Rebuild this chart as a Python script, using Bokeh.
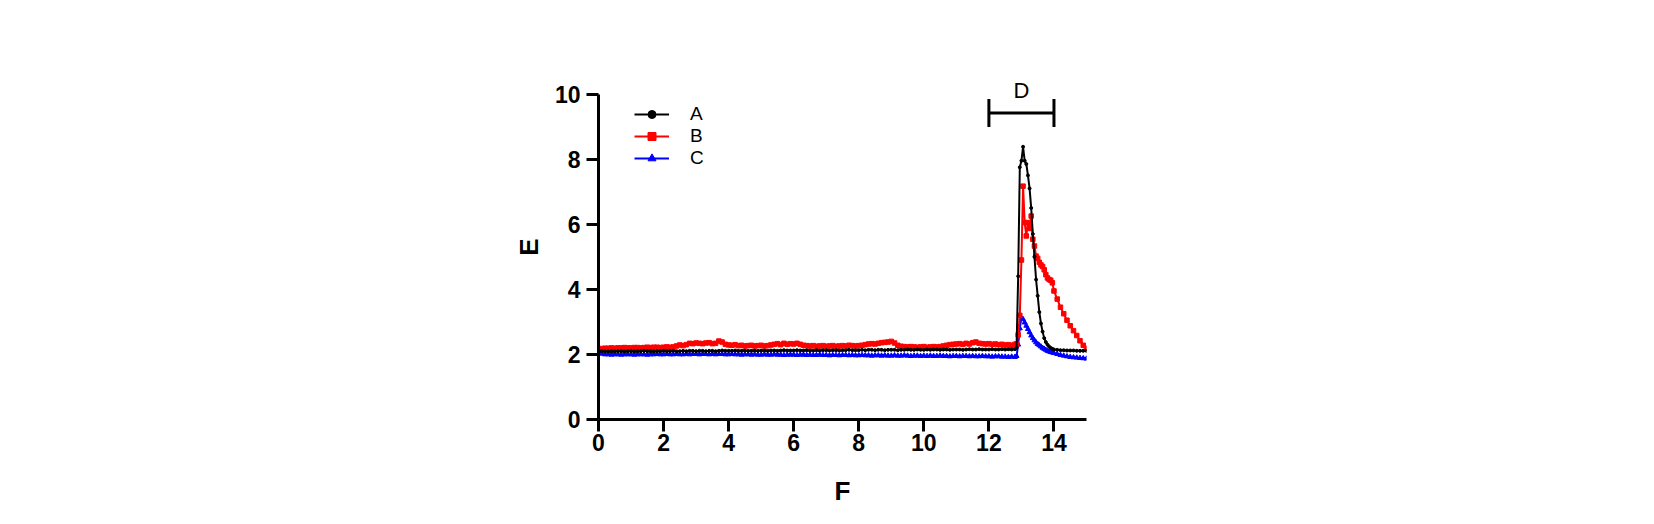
from bokeh.plotting import figure
from bokeh.models import Range1d, FixedTicker, Legend, LegendItem, Label
from bokeh.embed import file_html
from bokeh.resources import INLINE

# sample positions (F)
x_vals = [
    0.0, 0.1, 0.2, 0.3, 0.4, 0.5, 0.6, 0.7, 0.8, 0.9,
    1.0, 1.1, 1.2, 1.3, 1.4, 1.5, 1.6, 1.7, 1.8, 1.9,
    2.0, 2.1, 2.2, 2.3, 2.4, 2.5, 2.6, 2.7, 2.8, 2.9,
    3.0, 3.1, 3.2, 3.3, 3.4, 3.5, 3.6, 3.7, 3.8, 3.9,
    4.0, 4.1, 4.2, 4.3, 4.4, 4.5, 4.6, 4.7, 4.8, 4.9,
    5.0, 5.1, 5.2, 5.3, 5.4, 5.5, 5.6, 5.7, 5.8, 5.9,
    6.0, 6.1, 6.2, 6.3, 6.4, 6.5, 6.6, 6.7, 6.8, 6.9,
    7.0, 7.1, 7.2, 7.3, 7.4, 7.5, 7.6, 7.7, 7.8, 7.9,
    8.0, 8.1, 8.2, 8.3, 8.4, 8.5, 8.6, 8.7, 8.8, 8.9,
    9.0, 9.1, 9.2, 9.3, 9.4, 9.5, 9.6, 9.7, 9.8, 9.9,
    10.0, 10.1, 10.2, 10.3, 10.4, 10.5, 10.6, 10.7, 10.8, 10.9,
    11.0, 11.1, 11.2, 11.3, 11.4, 11.5, 11.6, 11.7, 11.8, 11.9,
    12.0, 12.1, 12.2, 12.3, 12.4, 12.5, 12.6, 12.7, 12.8,
    12.85, 12.9, 12.95, 13.0, 13.05, 13.1, 13.15, 13.2, 13.25, 13.3,
    13.35, 13.4, 13.45, 13.5, 13.55, 13.6, 13.65, 13.7, 13.75, 13.8,
    13.85, 13.9, 13.95, 14.0,
    14.1, 14.2, 14.3, 14.4, 14.5, 14.6, 14.7, 14.8, 14.9, 15.0,
]

series_a = [
    2.12, 2.10, 2.09, 2.09, 2.10, 2.09, 2.10, 2.10, 2.09, 2.10,
    2.10, 2.09, 2.10, 2.10, 2.11, 2.10, 2.10, 2.09, 2.10, 2.10,
    2.11, 2.10, 2.10, 2.11, 2.10, 2.10, 2.11, 2.10, 2.11, 2.11,
    2.10, 2.11, 2.11, 2.10, 2.11, 2.11, 2.10, 2.11, 2.12, 2.11,
    2.11, 2.11, 2.12, 2.11, 2.11, 2.12, 2.11, 2.11, 2.12, 2.11,
    2.12, 2.12, 2.11, 2.12, 2.12, 2.11, 2.12, 2.13, 2.12, 2.12,
    2.12, 2.13, 2.12, 2.12, 2.13, 2.12, 2.12, 2.13, 2.12, 2.13,
    2.13, 2.12, 2.13, 2.13, 2.12, 2.13, 2.13, 2.14, 2.13, 2.13,
    2.13, 2.14, 2.13, 2.14, 2.14, 2.13, 2.14, 2.14, 2.13, 2.14,
    2.14, 2.14, 2.13, 2.14, 2.14, 2.15, 2.14, 2.14, 2.15, 2.14,
    2.14, 2.15, 2.14, 2.15, 2.15, 2.14, 2.15, 2.15, 2.14, 2.15,
    2.15, 2.15, 2.14, 2.15, 2.16, 2.15, 2.15, 2.16, 2.15, 2.15,
    2.15, 2.16, 2.15, 2.15, 2.16, 2.15, 2.16, 2.15, 2.16,
    2.20, 4.40, 7.75, 7.95, 8.38, 7.95, 7.85, 7.50, 7.10, 6.50,
    5.70, 5.00, 4.30, 3.80, 3.30, 2.95, 2.70, 2.50, 2.38, 2.30,
    2.24, 2.20, 2.17, 2.15,
    2.14, 2.13, 2.13, 2.12, 2.12, 2.12, 2.11, 2.11, 2.11, 2.11,
]

series_b = [
    2.17, 2.18, 2.19, 2.19, 2.20, 2.19, 2.20, 2.20, 2.21, 2.20,
    2.20, 2.21, 2.21, 2.20, 2.21, 2.22, 2.21, 2.22, 2.22, 2.21,
    2.22, 2.23, 2.22, 2.23, 2.26, 2.29, 2.27, 2.30, 2.34, 2.33,
    2.35, 2.34, 2.33, 2.35, 2.36, 2.33, 2.34, 2.41, 2.38, 2.31,
    2.29, 2.28, 2.30, 2.27, 2.28, 2.26, 2.27, 2.28, 2.26, 2.27,
    2.28, 2.26, 2.27, 2.29, 2.31, 2.33, 2.30, 2.34, 2.31, 2.33,
    2.32, 2.34, 2.31, 2.28, 2.27, 2.26, 2.27, 2.25, 2.26, 2.27,
    2.25, 2.26, 2.27, 2.25, 2.26, 2.27, 2.26, 2.28, 2.27, 2.26,
    2.27, 2.28, 2.30, 2.32, 2.33, 2.32, 2.34, 2.36, 2.37, 2.38,
    2.40, 2.35, 2.28, 2.25, 2.24, 2.23, 2.24, 2.23, 2.22, 2.23,
    2.24, 2.22, 2.23, 2.24, 2.23, 2.24, 2.26, 2.28, 2.30, 2.31,
    2.32, 2.33, 2.31, 2.34, 2.32, 2.36, 2.38, 2.34, 2.33, 2.32,
    2.33, 2.31, 2.32, 2.30, 2.31, 2.29, 2.30, 2.28, 2.31,
    2.32, 2.60, 3.20, 4.90, 7.17, 6.05, 5.64, 6.05, 5.87, 6.25,
    5.54, 5.33, 5.02, 4.95, 4.83, 4.75, 4.70, 4.60, 4.45, 4.35,
    4.30, 4.28, 4.20, 3.95,
    3.70, 3.45, 3.25, 3.05, 2.88, 2.73, 2.58, 2.42, 2.28, 2.19,
]

series_c = [
    2.06, 2.02, 2.00, 2.00, 1.99, 2.00, 2.00, 1.99, 2.00, 2.00,
    2.00, 1.99, 2.00, 2.00, 2.00, 1.99, 2.00, 2.00, 2.01, 2.00,
    2.00, 2.01, 2.00, 2.00, 2.01, 2.00, 2.00, 2.01, 2.00, 2.01,
    2.01, 2.00, 2.01, 2.01, 2.00, 2.01, 2.00, 2.01, 2.01, 2.00,
    2.00, 2.01, 2.00, 2.00, 1.99, 2.00, 2.00, 1.99, 2.00, 1.99,
    1.99, 2.00, 1.99, 1.99, 2.00, 1.99, 1.99, 1.98, 1.99, 1.99,
    1.99, 1.98, 1.99, 1.99, 1.98, 1.99, 1.98, 1.98, 1.99, 1.98,
    1.98, 1.97, 1.98, 1.98, 1.97, 1.98, 1.98, 1.97, 1.98, 1.97,
    1.97, 1.98, 1.97, 1.97, 1.96, 1.97, 1.97, 1.96, 1.97, 1.96,
    1.96, 1.97, 1.96, 1.96, 1.97, 1.96, 1.95, 1.96, 1.96, 1.95,
    1.96, 1.95, 1.96, 1.95, 1.95, 1.96, 1.95, 1.95, 1.94, 1.95,
    1.95, 1.94, 1.95, 1.95, 1.94, 1.95, 1.94, 1.94, 1.95, 1.94,
    1.94, 1.93, 1.94, 1.94, 1.93, 1.93, 1.92, 1.93, 1.92,
    1.95, 2.30, 2.80, 3.12, 3.08, 2.98, 2.88, 2.78, 2.68, 2.58,
    2.50, 2.43, 2.37, 2.32, 2.28, 2.24, 2.20, 2.17, 2.14, 2.11,
    2.09, 2.07, 2.06, 2.04,
    2.01, 1.98, 1.96, 1.94, 1.92, 1.91, 1.90, 1.89, 1.88, 1.87,
]

x_ticks = [0, 2, 4, 6, 8, 10, 12, 14]
y_ticks = [0, 2, 4, 6, 8, 10]

# bracket "D" over the peak window
bracket_x0, bracket_x1 = 12, 14
bracket_y = 9.42
bracket_cap_lo, bracket_cap_hi = 8.99, 9.85
bracket_label = "D"

FONT = "Liberation Sans"

# y range goes a bit past 10 so the "D" label is not clipped;
# the axis itself is bounded to 0..10
p = figure(
    width=1638, height=508,
    x_range=Range1d(0, 15), y_range=Range1d(0, 10.6),
    output_backend="svg", toolbar_location=None,
    min_border_left=598, min_border_right=552,
    min_border_top=74, min_border_bottom=85,
    x_axis_label="F", y_axis_label="E",
)
p.outline_line_color = None
p.xgrid.visible = False
p.ygrid.visible = False
p.background_fill_color = "white"

p.xaxis.ticker = FixedTicker(ticks=x_ticks)
p.yaxis.ticker = FixedTicker(ticks=y_ticks)
p.yaxis.bounds = (0, 10)

for ax in (p.xaxis, p.yaxis):
    ax.axis_line_width = 3
    ax.axis_line_color = "black"
    ax.major_tick_line_width = 3
    ax.major_tick_line_color = "black"
    ax.major_tick_out = 12
    ax.major_tick_in = 0
    ax.minor_tick_line_color = None
    ax.major_label_text_font = FONT
    ax.major_label_text_font_style = "bold"
    ax.major_label_text_font_size = "23px"
    ax.major_label_text_color = "black"
    ax.axis_label_text_font = FONT
    ax.axis_label_text_font_style = "bold"
    ax.axis_label_text_font_size = "26px"
    ax.axis_label_text_color = "black"

p.xaxis.major_label_standoff = 2
p.yaxis.major_label_standoff = 6
p.xaxis.axis_label_standoff = 22
p.yaxis.axis_label_standoff = 8

# series, drawn C, B, A so that A sits on top
lc = p.line(x_vals, series_c, line_color="blue", line_width=2)
mc = p.scatter(x_vals, series_c, marker="triangle", size=5, color="blue")
lb = p.line(x_vals, series_b, line_color="red", line_width=2)
mb = p.scatter(x_vals, series_b, marker="square", size=4.5, color="red")
la = p.line(x_vals, series_a, line_color="black", line_width=2)
ma = p.scatter(x_vals, series_a, marker="circle", size=3, color="black")

# bracket
p.segment(x0=[bracket_x0, bracket_x0, bracket_x1],
          y0=[bracket_y, bracket_cap_lo, bracket_cap_lo],
          x1=[bracket_x1, bracket_x0, bracket_x1],
          y1=[bracket_y, bracket_cap_hi, bracket_cap_hi],
          line_color="black", line_width=3)
p.add_layout(Label(x=(bracket_x0 + bracket_x1) / 2, y=10.1, text=bracket_label,
                   text_align="center", text_baseline="middle",
                   text_font=FONT, text_font_size="22px", text_color="black"))

# one single-row legend per series so the row pitch can be set freely
legend_rows = [("A", [la, ma], 294), ("B", [lb, mb], 272), ("C", [lc, mc], 250)]
for name, rends, vy in legend_rows:
    legend = Legend(items=[LegendItem(label=name, renderers=rends)], location=(36, vy))
    legend.border_line_color = None
    legend.background_fill_alpha = 0
    legend.margin = 0
    legend.padding = 5
    legend.spacing = 0
    legend.glyph_width = 35
    legend.glyph_height = 20
    legend.label_height = 20
    legend.label_standoff = 21
    legend.label_text_font = FONT
    legend.label_text_font_size = "19px"
    legend.label_text_line_height = 1.0
    legend.label_text_color = "black"
    p.add_layout(legend)

open("out.html", "w").write(file_html(p, INLINE))
